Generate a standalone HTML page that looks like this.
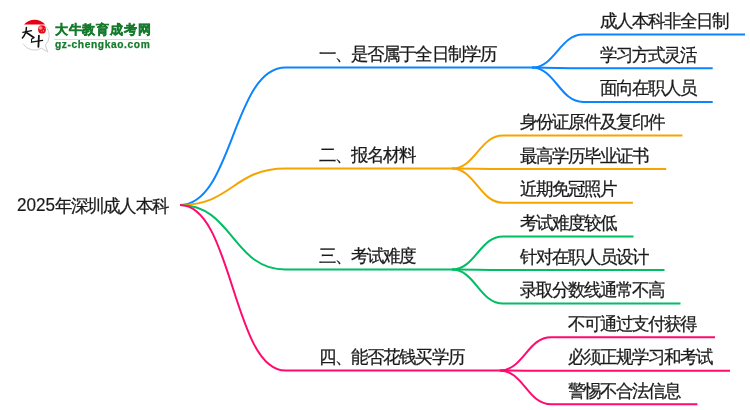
<!DOCTYPE html>
<html><head><meta charset="utf-8"><style>
html,body{margin:0;padding:0;background:#fff;}
body{width:750px;height:410px;position:relative;overflow:hidden;font-family:"Liberation Sans",sans-serif;color:#1a1a1a;}
.w{position:absolute;left:0;top:0;width:750px;height:410px;will-change:transform;}
.t{position:absolute;font-size:17.5px;line-height:17.5px;letter-spacing:-1.92px;white-space:nowrap;-webkit-text-stroke:0.25px #1a1a1a;transform:scaleY(1.03);transform-origin:0 0;}
svg{position:absolute;left:0;top:0;}
.lg1{position:absolute;left:54.8px;top:23.3px;font-size:12.6px;letter-spacing:0.8px;line-height:14px;font-weight:bold;color:#157a2c;-webkit-text-stroke:0.45px #157a2c;white-space:nowrap;}
.lg2{position:absolute;left:55px;top:38.5px;font-size:10.2px;line-height:12px;letter-spacing:0.62px;font-weight:bold;color:#157a2c;-webkit-text-stroke:0.25px #157a2c;white-space:nowrap;}
.lgl{position:absolute;left:54px;top:38.6px;width:97px;height:1px;background:#d3ddd5;}
.rd{font-size:19px;-webkit-text-stroke:0.2px #1a1a1a;transform:scaleX(0.9);transform-origin:0 0;}
</style></head><body>
<div class="w">
<svg width="750" height="410" viewBox="0 0 750 410" fill="none" stroke-width="2">
<path d="M180.00 205 C232.75 205 232.75 67.6 285.50 67.6 L531.70 67.6" stroke="#0a84ff"/>
<path d="M531.70 67.6 C555.34 67.6 559.46 34.6 583.10 34.6 L745 34.6" stroke="#0a84ff"/>
<path d="M531.70 67.6 C555.34 67.6 559.46 68.2 583.10 68.2 L712.7 68.2" stroke="#0a84ff"/>
<path d="M531.70 67.6 C555.34 67.6 559.46 101.9 583.10 101.9 L712.7 101.9" stroke="#0a84ff"/>
<path d="M180.00 205 C232.75 205 232.75 168.6 285.50 168.6 L451.70 168.6" stroke="#f5a500"/>
<path d="M451.70 168.6 C475.34 168.6 479.46 135.5 503.10 135.5 L682.4 135.5" stroke="#f5a500"/>
<path d="M451.70 168.6 C475.34 168.6 479.46 169.1 503.10 169.1 L666.2 169.1" stroke="#f5a500"/>
<path d="M451.70 168.6 C475.34 168.6 479.46 202.7 503.10 202.7 L632.9 202.7" stroke="#f5a500"/>
<path d="M180.00 205 C232.75 205 232.75 269.6 285.50 269.6 L451.70 269.6" stroke="#00be64"/>
<path d="M451.70 269.6 C475.34 269.6 479.46 236.4 503.10 236.4 L633.5 236.4" stroke="#00be64"/>
<path d="M451.70 269.6 C475.34 269.6 479.46 270.0 503.10 270.0 L664.5 270.0" stroke="#00be64"/>
<path d="M451.70 269.6 C475.34 269.6 479.46 303.6 503.10 303.6 L680.5 303.6" stroke="#00be64"/>
<path d="M180.00 205 C232.75 205 232.75 370.5 285.50 370.5 L499.70 370.5" stroke="#ff0a6e"/>
<path d="M499.70 370.5 C523.34 370.5 527.46 337.2 551.10 337.2 L715 337.2" stroke="#ff0a6e"/>
<path d="M499.70 370.5 C523.34 370.5 527.46 370.8 551.10 370.8 L730 370.8" stroke="#ff0a6e"/>
<path d="M499.70 370.5 C523.34 370.5 527.46 404.3 551.10 404.3 L697.4 404.3" stroke="#ff0a6e"/>
</svg>
<svg width="60" height="60" viewBox="0 0 60 60" style="left:0;top:0">
<path d="M22.9 43.6 A13.6 13.6 0 0 0 41.5 48.2 L47.8 52 L45.3 45.2 A13.6 13.6 0 0 0 46.3 27.2" fill="none" stroke="#c8c8c8" stroke-width="0.9"/>
<path d="M24 24.6 A14.1 14.1 0 0 1 45.2 24.6 Z" fill="#e60012"/>
<ellipse cx="42" cy="29.4" rx="3.9" ry="4.2" fill="#e60a14"/>
<ellipse cx="40.6" cy="28" rx="1.9" ry="1.8" fill="#fff" opacity="0.55"/>
<circle cx="43.4" cy="30.8" r="0.7" fill="#fff" opacity="0.6"/>
<circle cx="41.4" cy="31.4" r="0.5" fill="#fff" opacity="0.5"/>
<circle cx="44.6" cy="28.6" r="0.5" fill="#fff" opacity="0.4"/>
<g stroke="#111" fill="none" stroke-linecap="round">
<path d="M22.8 32.4 L31.6 30.6" stroke-width="1.2"/>
<path d="M26.4 27.4 C26.4 31 25 35 22.4 38" stroke-width="1.5"/>
<path d="M26.4 32.5 L33.8 37.5" stroke-width="1.7"/>
<path d="M33.8 37.5 L31.5 39.3 L31.6 41.8" stroke-width="1.1"/>
<path d="M31.4 42.2 L42.6 40.4" stroke-width="1.3"/>
<path d="M38.9 35.6 L38.4 46.8" stroke-width="1.8"/>
</g>
</svg>
<div class="lg1">大牛教育成考网</div>
<div class="lgl"></div>
<div class="lg2">gz-chengkao.com</div>
<div class="t" style="left:54.9px;top:197.9px;letter-spacing:-1.85px;">年深圳成人本科</div>
<div class="rd" style="position:absolute;left:17.4px;top:195.4px;line-height:20px;">2025</div>
<div class="t" style="left:319.00px;top:46.45px;">一、是否属于全日制学历</div>
<div class="t" style="left:599.70px;top:13.15px;">成人本科非全日制</div>
<div class="t" style="left:599.70px;top:46.75px;">学习方式灵活</div>
<div class="t" style="left:599.70px;top:80.45px;">面向在职人员</div>
<div class="t" style="left:319.00px;top:147.45px;">二、报名材料</div>
<div class="t" style="left:519.70px;top:114.05px;">身份证原件及复印件</div>
<div class="t" style="left:519.70px;top:147.65px;">最高学历毕业证书</div>
<div class="t" style="left:519.70px;top:181.25px;">近期免冠照片</div>
<div class="t" style="left:319.00px;top:248.45px;">三、考试难度</div>
<div class="t" style="left:519.70px;top:214.95px;">考试难度较低</div>
<div class="t" style="left:519.70px;top:248.55px;">针对在职人员设计</div>
<div class="t" style="left:519.70px;top:282.15px;">录取分数线通常不高</div>
<div class="t" style="left:319.00px;top:349.35px;">四、能否花钱买学历</div>
<div class="t" style="left:567.70px;top:315.75px;">不可通过支付获得</div>
<div class="t" style="left:567.70px;top:349.35px;">必须正规学习和考试</div>
<div class="t" style="left:567.70px;top:382.85px;">警惕不合法信息</div>
</div>
</body></html>
